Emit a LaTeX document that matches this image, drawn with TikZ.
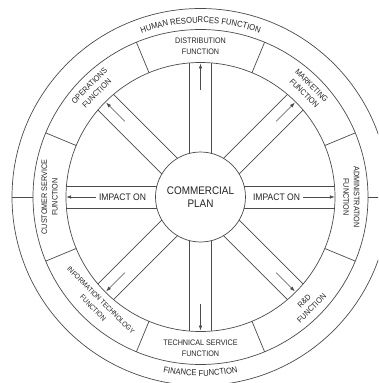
\documentclass[tikz,border=0pt]{standalone}
\usepackage{fontspec}
\setmainfont{Liberation Sans}
\newfontfamily\nfont[FakeStretch=0.9]{Liberation Sans}
\usetikzlibrary{arrows.meta,decorations.text}
\newcommand\bandfont{\nfont\fontsize{8.5}{10}\selectfont}
\definecolor{lc}{RGB}{75,75,75}
\definecolor{tc}{RGB}{35,35,35}
\begin{document}
\begin{tikzpicture}[x=1pt,y=1pt,
  ln/.style={draw=lc, line width=0.7pt},
  arr/.style={ln, -{Latex[length=5pt,width=3.6pt]}},
  lbl/.style={text=tc, font=\nfont\fontsize{8}{10.5}\selectfont, align=center, inner sep=0pt},
  imp/.style={text=tc, font=\nfont\fontsize{9.5}{11}\selectfont, inner sep=0pt},
  band/.style={decorate, decoration={text along path, text align=center, text color=tc, text={|\bandfont|#1}}}
]
\useasboundingbox (-200.5,-186) rectangle (177.5,197);
\fill[white] (-200.5,-186) rectangle (177.5,197);
\clip (-200.5,-186) rectangle (177.5,197);
% rings
\draw[ln] (0,0) circle (188.5);
\draw[ln] (0,0) circle (167.5);
\draw[ln] (0,0) circle (134.5);
% centre
\node[circle, draw=lc, line width=0.7pt, minimum size=90pt, inner sep=0pt, align=center,
      text=tc, font=\nfont\fontsize{11}{12.5}\selectfont] (plan) at (0,0) {COMMERCIAL\\PLAN};
% spokes
\foreach \a in {0,45,...,315} {
  \draw[ln, rotate=\a] (43.63,11) -- (134.05,11);
  \draw[ln, rotate=\a] (43.63,-11) -- (134.05,-11);
}
% separators
\foreach \a in {22.5,67.5,...,337.5} \draw[ln] (\a:134.5) -- (\a:167.5);
\draw[ln] (0:167.5) -- (0:188.5);
\draw[ln] (180:167.5) -- (180:188.5);
% arrows
\foreach \a in {45,90,135,225,270,315} {
  \coordinate (s\a) at (\a:107);
  \coordinate (e\a) at (\a:133.5);
  \draw[arr] (s\a) -- (e\a);
}
\node[imp] (impR) at (0:76) {IMPACT ON};
\node[imp] (impL) at (180:78) {IMPACT ON};
\coordinate (eR) at (0:134.3);
\coordinate (eL) at (180:134.3);
\draw[arr] (impR.east) ++(3,0) -- (eR);
\draw[arr] (impL.west) ++(-3,0) -- (eL);
% function labels
\node[lbl] (dist) at (90:151) {DISTRIBUTION\\FUNCTION};
\node[lbl, rotate=-45] (mkt) at (45:152) {MARKETING\\FUNCTION};
\node[lbl, rotate=-90] (adm) at (0:151) {ADMINISTRATION\\FUNCTION};
\node[lbl, rotate=45] (rnd) at (-45:152) {R\&D\\FUNCTION};
\node[lbl] (tech) at (-90:151) {TECHNICAL SERVICE\\FUNCTION};
\node[lbl, rotate=-45, font=\nfont\fontsize{7.2}{11}\selectfont] (it) at (-134:149) {INFORMATION TECHNOLOGY\\FUNCTION};
\node[lbl, rotate=90] (cust) at (180:151) {CUSTOMER SERVICE\\FUNCTION};
\node[lbl, rotate=45] (ops) at (135:152) {OPERATIONS\\FUNCTION};
% outer band texts
\path[band={HUMAN RESOURCES FUNCTION}] (180:174) arc[start angle=180, end angle=0, radius=174];
\path[band={FINANCE FUNCTION}] (180:179) arc[start angle=180, end angle=360, radius=179];
\end{tikzpicture}
\end{document}
